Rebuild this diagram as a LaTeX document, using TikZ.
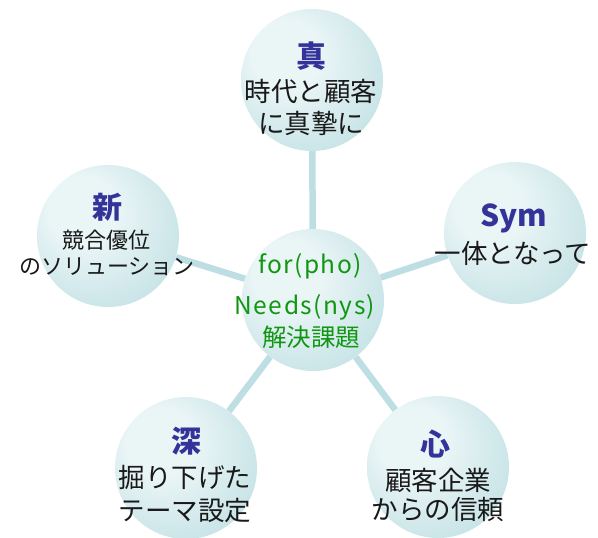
\documentclass[tikz,border=0pt]{standalone}
\usepackage{fontspec}
\setmainfont{Noto Sans CJK JP}
\usetikzlibrary{backgrounds}
\definecolor{ballA}{RGB}{234,245,246}
\definecolor{ballB}{RGB}{182,219,223}
\definecolor{linkc}{RGB}{189,223,227}
\definecolor{titlec}{RGB}{51,51,153}
\definecolor{greenc}{RGB}{16,150,16}
\pgfdeclareradialshading{ballshade}{\pgfpoint{-12bp}{12bp}}{color(0bp)=(ballA); color(12bp)=(ballA); color(42bp)=(ballB); color(50bp)=(ballB)}
\begin{document}
\begin{tikzpicture}[x=1pt,y=-1pt,
  ball/.style={circle,minimum size=142pt,inner sep=0pt,shading=ballshade},
  link/.style={draw=linkc,line width=6.5pt},
  ttl/.style={text=titlec,font=\fontsize{30}{32}\selectfont\bfseries,inner sep=0pt},
  body/.style={text=black!90,font=\fontsize{26.5}{32}\selectfont,inner sep=0pt},
  bodys/.style={text=black!90,font=\fontsize{22}{27}\selectfont,inner sep=0pt},
  ctr/.style={text=greenc,font=\fontsize{24.5}{28}\selectfont,inner sep=0pt},
  ctrw/.style={text=greenc,font=\fontsize{24.5}{28}\selectfont\addfontfeature{LetterSpace=6},inner sep=0pt}]
\useasboundingbox (0,0) rectangle (598,538);
\node[ball] (T) at (312,80) {};
\node[ball] (C) at (313,300) {};
\node[ball] (L) at (108,236) {};
\node[ball] (R) at (515,233) {};
\node[ball] (BL) at (186,468) {};
\node[ball] (BR) at (438,467) {};
\begin{pgfonlayer}{background}
\draw[link] (C) -- (T);
\draw[link] (C) -- (L);
\draw[link] (C) -- (R);
\draw[link] (C) -- (BL);
\draw[link] (C) -- (BR);
\end{pgfonlayer}
% top
\node[ttl] (t0) at (311,56) {真};
\node[body] (t1) at (311,91) {時代と顧客};
\node[body] (t2) at (311,123) {に真摯に};
% left
\node[ttl] (l0) at (107,207) {新};
\node[bodys] (l1) at (107,240) {競合優位};
\node[bodys] (l2) at (107,267) {のソリューション};
% right
\node[ttl] (r0) at (514,218) {Sym};
\node[body] (r1) at (513,253) {一体となって};
% bottom left
\node[ttl] (bl0) at (186,441) {深};
\node[body] (bl1) at (185,477) {掘り下げた};
\node[body] (bl2) at (185,510) {テーマ設定};
% bottom right
\node[ttl] (br0) at (435,444) {心};
\node[body] (br1) at (438,480) {顧客企業};
\node[body] (br2) at (438,510) {からの信頼};
% center
\node[ctrw] (c0) at (310,266) {for(pho)};
\node[ctrw] (c1) at (305,307) {Needs(nys)};
\node[ctr] (c2) at (311,337) {解決課題};
\end{tikzpicture}
\end{document}
